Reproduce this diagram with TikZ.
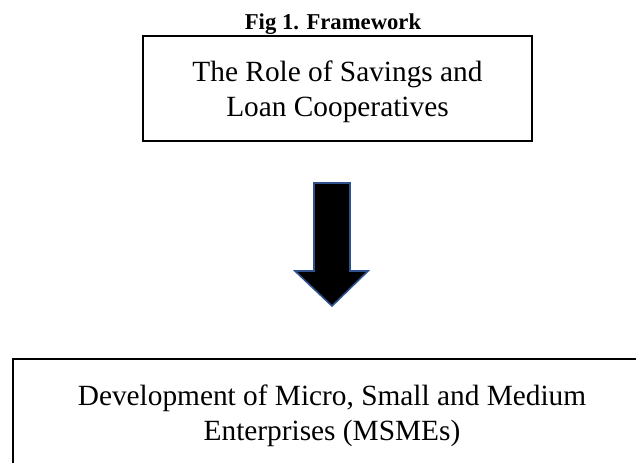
\documentclass[tikz,border=0pt]{standalone}
\usepackage{fontspec}
\setmainfont{Liberation Serif}
\definecolor{arrowedge}{HTML}{2F528F}
\begin{document}
\begin{tikzpicture}[x=0.75pt,y=-0.75pt,
  framebox/.style={draw=black, line width=1.5pt, align=center, inner sep=0pt,
    font=\fontsize{22}{26.4}\selectfont},
  caption/.style={font=\fontsize{17}{20}\selectfont\bfseries, inner sep=0pt},
  blockarrow/.style={fill=black, draw=arrowedge, line width=1.2pt, line join=miter}]
  \useasboundingbox (0,0) rectangle (636,462);
  \clip (0,0) rectangle (636,462);

  % caption
  \node[caption, anchor=base] (title) at (333,29) {Fig 1. Framework};

  % top box
  \node[framebox, minimum width=389*0.75pt, minimum height=105*0.75pt,
    text depth=0pt] (role)
    at (337.5,88.5) {The Role of Savings and\\Loan Cooperatives};

  % bottom box (runs off the page to the right and below)
  \node[framebox, minimum width=638*0.75pt, minimum height=113*0.75pt] (msme)
    at (332,415.5) {Development of Micro, Small and Medium\\Enterprises (MSMEs)};

  % block arrow between the two boxes
  \coordinate (atop) at (332,183);
  \coordinate (atip) at (332,306);
  \draw[blockarrow] ([xshift=-18*0.75pt]atop) -- ([xshift=18*0.75pt]atop)
    -- (350,271) -- (368,271) -- (atip) -- (295,271) -- (314,271) -- cycle;
\end{tikzpicture}
\end{document}
